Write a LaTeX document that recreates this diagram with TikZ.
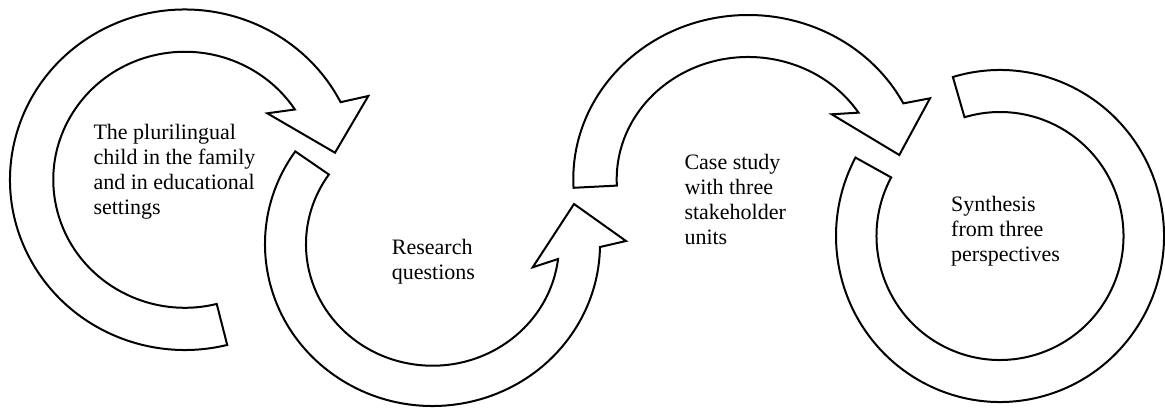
\documentclass[tikz,border=0pt]{standalone}
\usepackage{fontspec}
\setmainfont{Liberation Serif}
\usetikzlibrary{calc}
\begin{document}
\begin{tikzpicture}[x=1pt,y=1pt,
  band/.style={draw=black, line width=2pt, fill=white, line join=miter},
  caption/.style={font=\fontsize{22}{25}\selectfont, align=left, anchor=base west, inner sep=0pt}]
\useasboundingbox (0,0) rectangle (1165,408);

% centres of the four bands
\coordinate (c1) at (184.9,228.25);
\coordinate (c2) at (432.5,163.8);
\coordinate (c3) at (748.2,228.8);
\coordinate (c4) at (1000,172);

% arrowhead points: barb on the outside, tip, barb on the inside
\coordinate (b1o) at (368.3,312);   \coordinate (t1) at (335,255.3);   \coordinate (b1i) at (267.3,294.7);
\coordinate (b2o) at (626,167);     \coordinate (t2) at (574,204);     \coordinate (b2i) at (532.7,140.7);
\coordinate (b3o) at (930,309.7);   \coordinate (t3) at (899.3,253);   \coordinate (b3i) at (831.7,293.7);

% first arrow: clockwise from the bottom, over the top, head pointing down-right
\draw[band] ($(c1)+(27.1:174.9pt and 170.25pt)$)
  arc[start angle=27.1, end angle=284, x radius=174.9pt, y radius=170.25pt]
  -- ($(c1)+(284:131.6pt and 128pt)$)
  arc[start angle=284, end angle=33.3, x radius=131.6pt, y radius=128pt]
  -- (b1i) -- (t1) -- (b1o) -- cycle;

% second arrow: anticlockwise round the bottom, head pointing up
\draw[band] ($(c2)+(145:167.5pt and 161.8pt)$)
  arc[start angle=145, end angle=359, x radius=167.5pt, y radius=161.8pt]
  -- (b2o) -- (t2) -- (b2i)
  -- ($(c2)+(353:126.5pt and 121.5pt)$)
  arc[start angle=353, end angle=145, x radius=126.5pt, y radius=121.5pt]
  -- cycle;

% third arrow: from the left, over the top, head pointing down-right
\draw[band] ($(c3)+(183:174.9pt and 164.2pt)$)
  arc[start angle=183, end angle=27.5, x radius=174.9pt, y radius=164.2pt]
  -- (b3o) -- (t3) -- (b3i)
  -- ($(c3)+(33:131.5pt and 122.2pt)$)
  arc[start angle=33, end angle=183, x radius=131.5pt, y radius=122.2pt]
  -- cycle;

% closing ring, open at the upper left
\draw[band] ($(c4)+(106.7:164pt and 166pt)$)
  arc[start angle=106.7, end angle=-208.2, x radius=164pt, y radius=166pt]
  -- ($(c4)+(-208.2:123.5pt and 124pt)$)
  arc[start angle=-208.2, end angle=106.7, x radius=123.5pt, y radius=124pt]
  -- cycle;

% captions (anchored at the baseline of their last line)
\node[caption] (plural) at (93.3,194) {The plurilingual\\child in the family\\and in educational\\settings};
\node[caption] (rq) at (391.7,128.7) {Research\\questions};
\node[caption] (case) at (684.3,164) {Case study\\with three\\stakeholder\\units};
\node[caption] (synth) at (951,146.3) {Synthesis\\from three\\perspectives};
\end{tikzpicture}
\end{document}
